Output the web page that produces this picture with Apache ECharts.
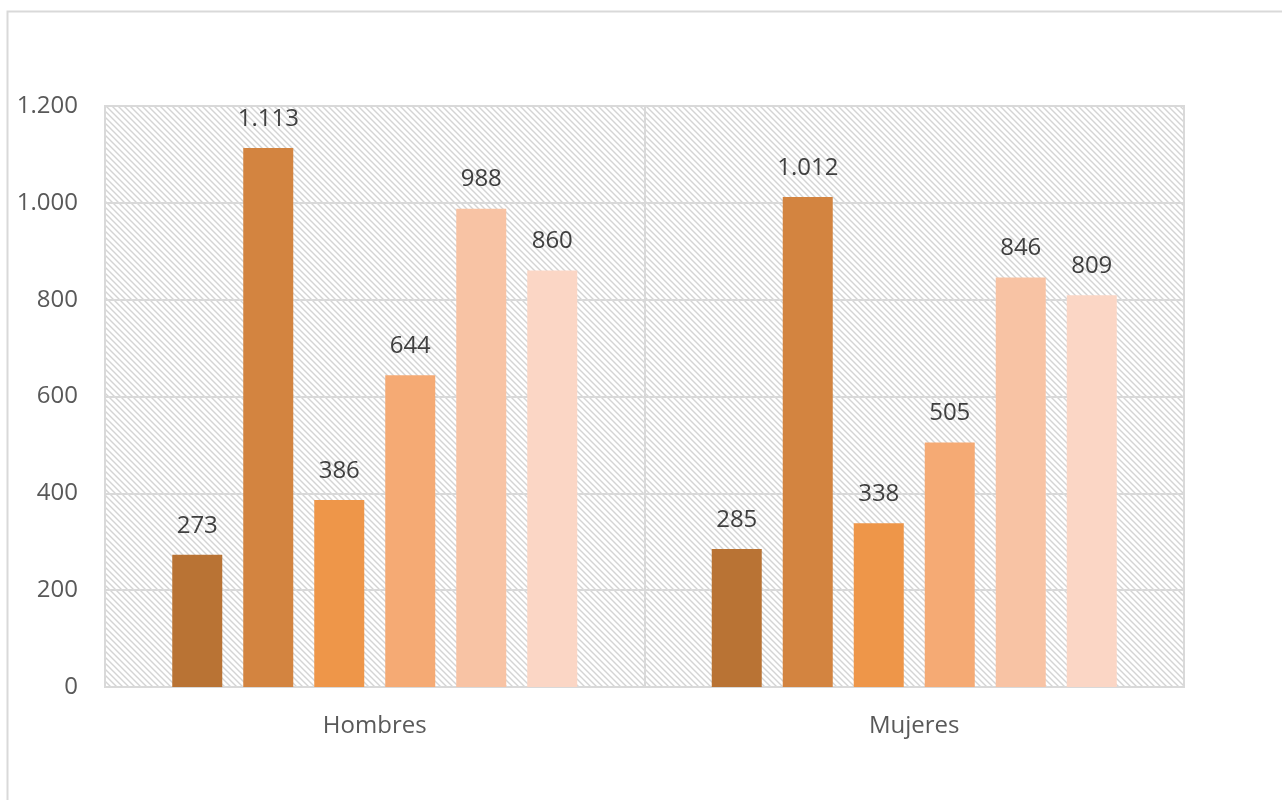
<!DOCTYPE html>
<html>
<head>
<meta charset="utf-8">
<style>html,body{margin:0;padding:0;background:#fff;}#c{width:1282px;height:800px;}</style>
<script src="https://cdn.jsdelivr.net/npm/echarts@6/dist/echarts.min.js"></script>
</head>
<body>
<div id="c"></div>
<script>
const categories = ['Hombres', 'Mujeres'];
const seriesNames = ['Serie 1', 'Serie 2', 'Serie 3', 'Serie 4', 'Serie 5', 'Serie 6'];
const serie1 = [273, 285];
const serie2 = [1113, 1012];
const serie3 = [386, 338];
const serie4 = [644, 505];
const serie5 = [988, 846];
const serie6 = [860, 809];
const colors = ['#B97334', '#D38440', '#EE9649', '#F5AA74', '#F8C3A4', '#FBD6C5'];
const yTicks = { min: 0, max: 1200, interval: 200 };

function fmt(v) { return String(v).replace(/\B(?=(\d{3})+(?!\d))/g, '.'); }

const pc = document.createElement('canvas');
pc.width = 6; pc.height = 6;
const px = pc.getContext('2d');
px.fillStyle = '#ffffff'; px.fillRect(0, 0, 6, 6);
px.strokeStyle = '#d4d4d4'; px.lineWidth = 1.4;
px.beginPath();
px.moveTo(-1, -1); px.lineTo(7, 7);
px.moveTo(-7, -1); px.lineTo(1, 7);
px.moveTo(5, -1); px.lineTo(13, 7);
px.stroke();

const values = [serie1, serie2, serie3, serie4, serie5, serie6];
const FONT = 'Open Sans';
const chart = echarts.init(document.getElementById('c'), null, { renderer: 'canvas' });
chart.setOption({
  animation: false,
  backgroundColor: '#fff',
  textStyle: { fontFamily: FONT },
  graphic: [{
    type: 'rect', left: 5, top: 9, z: -10,
    shape: { width: 1300, height: 820 },
    style: { fill: 'none', stroke: '#d9d9d9', lineWidth: 2 }
  }],
  grid: {
    left: 105, top: 106, right: 98, bottom: 113,
    show: true,
    backgroundColor: { image: pc, repeat: 'repeat' },
    borderColor: '#d9d9d9', borderWidth: 2
  },
  xAxis: {
    type: 'category', data: categories,
    axisLine: { show: true, lineStyle: { color: '#d9d9d9', width: 2 } },
    axisTick: { show: false },
    splitLine: { show: true, lineStyle: { color: '#d9d9d9', width: 2 } },
    axisLabel: { color: '#595959', fontSize: 24, margin: 27, fontFamily: FONT }
  },
  yAxis: {
    type: 'value', min: yTicks.min, max: yTicks.max, interval: yTicks.interval,
    axisLine: { show: false }, axisTick: { show: false },
    splitLine: { lineStyle: { color: '#d9d9d9', width: 2 } },
    axisLabel: { color: '#595959', fontSize: 24, margin: 27, fontFamily: FONT, formatter: fmt }
  },
  series: values.map((d, i) => ({
    name: seriesNames[i], type: 'bar', data: d,
    barWidth: 50, barGap: '42%',
    itemStyle: { color: colors[i] },
    label: { show: true, position: 'top', distance: 17, color: '#404040', fontSize: 24, fontFamily: FONT, formatter: p => fmt(p.value) }
  }))
});
</script>
</body>
</html>
